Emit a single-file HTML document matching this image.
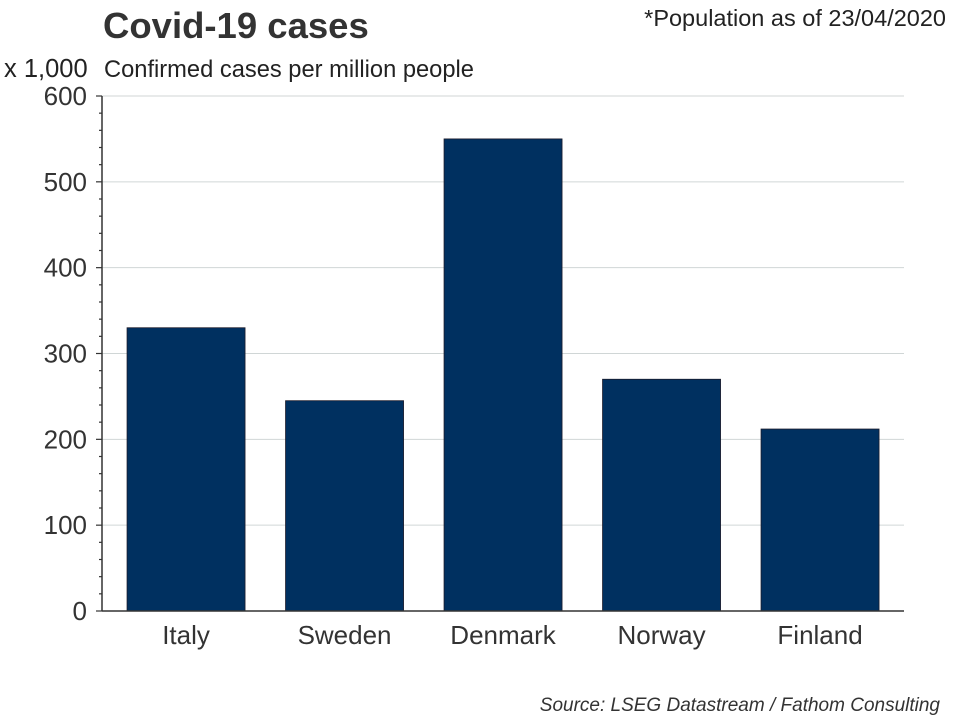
<!DOCTYPE html>
<html><head><meta charset="utf-8"><style>
body{margin:0;background:#fff;}
svg{display:block;font-family:"Liberation Sans",Arial,sans-serif;}
</style></head><body>
<svg id="chart" width="960" height="720" viewBox="0 0 960 720">
<text x="103" y="38" font-size="36.5" font-weight="bold" fill="#333">Covid-19 cases</text>
<text x="946" y="26" font-size="23.5" fill="#222" text-anchor="end">*Population as of 23/04/2020</text>
<text x="4" y="77" font-size="25.5" fill="#222">x 1,000</text>
<text x="104" y="77" font-size="23.7" fill="#222">Confirmed cases per million people</text>
<g id="grid"></g>
<g id="bars"></g>
<g id="axes"></g>
<text x="940" y="711" font-size="19" font-style="italic" fill="#333" text-anchor="end">Source: LSEG Datastream / Fathom Consulting</text>
</svg>
<script>
const categories = ["Italy","Sweden","Denmark","Norway","Finland"];
const values = [330, 245, 550, 270, 212];
const yTicks = [0,100,200,300,400,500,600];
const NS="http://www.w3.org/2000/svg";
const x0=102,x1=904,y0=611,y1=96,yMax=600;
const y=v=>y0-(v/yMax)*(y0-y1);
const bandStart=106.8, band=158.5;
const xc=i=>bandStart+band*(i+0.5);
function mk(t,a,p){const e=document.createElementNS(NS,t);for(const k in a)e.setAttribute(k,a[k]);p.appendChild(e);return e;}
const grid=document.getElementById('grid'),bars=document.getElementById('bars'),axes=document.getElementById('axes');
yTicks.forEach(v=>{
  if(v>0){const g=mk('line',{x1:x0,x2:x1,y1:y(v),y2:y(v),stroke:'#d0d6d6','stroke-width':1},grid);
  
  }
  const t=mk('line',{x1:x0-6,x2:x0,y1:y(v),y2:y(v),stroke:'#333','stroke-width':1.2},axes);
  
  
  const l=mk('text',{x:x0-15,y:y(v)+9,'font-size':26,fill:'#333','text-anchor':'end'},axes);
  l.textContent=v;
  
  
});
for(let v=20;v<yMax;v+=20){if(v%100===0)continue;
  const m=mk('line',{x1:x0-3,x2:x0,y1:y(v),y2:y(v),stroke:'#333','stroke-width':1.2},axes);
  
  }
const bw=118;
categories.forEach((c,i)=>{
  const r=mk('rect',{x:xc(i)-bw/2,y:y(values[i]),width:bw,height:y0-y(values[i]),fill:'#003060',stroke:'#1a1a2a','stroke-width':0.8},bars);
  
  
  const l=mk('text',{x:xc(i),y:644,'font-size':26,fill:'#333','text-anchor':'middle'},axes);
  l.textContent=c;
  
  
});
const ya=mk('line',{x1:x0,x2:x0,y1:y1,y2:y0,stroke:'#333','stroke-width':1.5},axes);


const xa=mk('line',{x1:x0,x2:x1,y1:y0,y2:y0,stroke:'#333','stroke-width':1.5},axes);


</script>
</body></html>
